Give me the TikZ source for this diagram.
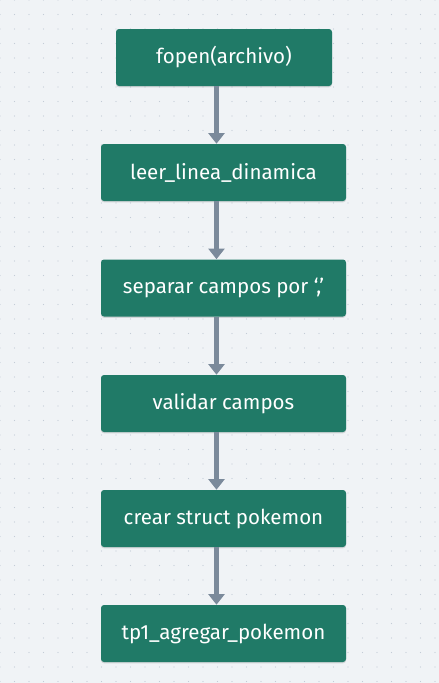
\documentclass[tikz,border=0pt]{standalone}
\usepackage{fontspec}
\setmainfont{Fira Sans}
\usetikzlibrary{arrows.meta,shadows}
\definecolor{boxgreen}{HTML}{207A67}
\definecolor{flowgrey}{HTML}{7B8A9B}
\definecolor{paper}{HTML}{F0F3F6}
\definecolor{griddot}{HTML}{C3CCD7}
\begin{document}
\begin{tikzpicture}[x=0.75pt,y=-0.75pt,
    step box/.style={fill=boxgreen, text=white, rounded corners=2.25pt, minimum height=42.75pt,
        font=\fontsize{15.4}{17}\selectfont, inner sep=0pt,
        drop shadow={shadow xshift=0pt, shadow yshift=-1pt, opacity=0.12, fill=black}},
    flow/.style={draw=flowgrey, line width=3.5pt, -{Triangle[width=12pt,length=8pt]}}]
    \fill[paper] (0,0) rectangle (439,683);
    \useasboundingbox (0,0) rectangle (439,683);
    % dot grid
    \foreach \i in {0,...,30} {
        \foreach \j in {0,...,47} {
            \fill[griddot] (\i*14.5,\j*14.5) circle (0.55pt);
        }
    }
    \node [step box, minimum width=162pt] (fopen) at (224,57.5) {fopen(archivo)};
    \node [step box, minimum width=183.75pt] (leer) at (223.5,172.5) {leer\_linea\_dinamica};
    \node [step box, minimum width=183.75pt] (separar) at (223.5,288) {separar campos por ‘,’};
    \node [step box, minimum width=183.75pt] (validar) at (223.5,403.5) {validar campos};
    \node [step box, minimum width=183.75pt] (crear) at (223.5,518.5) {crear struct pokemon};
    \node [step box, minimum width=183.75pt] (agregar) at (223.5,633.5) {tp1\_agregar\_pokemon};
    \foreach \a/\b in {fopen/leer, leer/separar, separar/validar, validar/crear, crear/agregar}
        \draw [flow] (216.5,0 |- \a.south) -- (216.5,0 |- \b.north);
\end{tikzpicture}
\end{document}
